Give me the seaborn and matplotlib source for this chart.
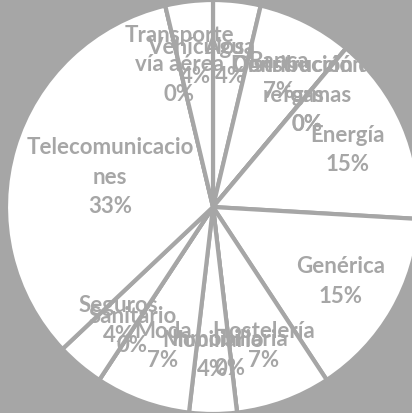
import matplotlib
matplotlib.use("Agg")
import matplotlib.pyplot as plt
import numpy as np
import seaborn as sns

# sector names (alphabetical, as drawn clockwise from 12 o'clock) and counts
sectors = ["Agua", "Banca", "Construcción y\nreformas", "Distribución de\ngas",
           "Energía", "Genérica", "Hostelería", "Inmobiliaria", "Mobiliario",
           "Moda", "Sanitario", "Seguros", "Telecomunicacio\nnes",
           "Transporte\nvía aérea", "Vehículos"]
counts = [1, 2, 0, 0, 4, 4, 2, 0, 1, 2, 0, 1, 9, 0, 1]

GRAY = "#a6a6a6"

sns.set_theme(style="white")
plt.rcParams['font.family'] = ['Lato', 'DejaVu Sans']

fig = plt.figure(figsize=(4.12, 4.14), dpi=100, facecolor=GRAY)
ax = fig.add_axes([0, 0, 1, 1])
ax.set_facecolor(GRAY)

wedges, _ = ax.pie(counts, startangle=90, counterclock=False,
                   colors=["white"] * len(counts), radius=1,
                   wedgeprops=dict(edgecolor=GRAY, linewidth=3))

total = sum(counts)
for w, name, c in zip(wedges, sectors, counts):
    mid = np.deg2rad((w.theta1 + w.theta2) / 2)
    d = 0.52 if c / total > 0.3 else 0.71
    ax.text(d * np.cos(mid), d * np.sin(mid), f"{name}\n{100 * c / total:.0f}%",
            ha="center", va="center", color=GRAY, fontsize=16,
            fontweight="bold", linespacing=1.5)

# pie runs past the figure edges, like the original
ax.set_xlim(-213 / 207, 199 / 207)
ax.set_ylim(-206 / 207, 208 / 207)
ax.set_aspect("equal")
ax.axis("off")

fig.savefig("out.png", dpi=100, facecolor=GRAY)
